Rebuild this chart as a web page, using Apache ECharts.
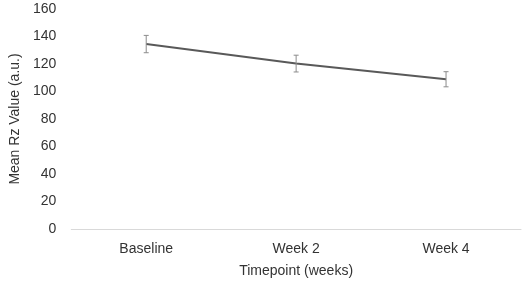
<!DOCTYPE html>
<html>
<head>
<meta charset="utf-8">
<script src="https://cdn.jsdelivr.net/npm/echarts@6/dist/echarts.min.js"></script>
<style>html,body{margin:0;padding:0;background:#fff}#c{width:524px;height:283px}</style>
</head>
<body>
<div id="c"></div>
<script>
const categories = ['Baseline', 'Week 2', 'Week 4'];
const meanValues = [134.5, 120.3, 108.9];
const errorValues = [6.3, 6.1, 5.5];
const yTicks = [0, 20, 40, 60, 80, 100, 120, 140, 160];

const chart = echarts.init(document.getElementById('c'), null, {renderer: 'canvas'});
const font = 'Liberation Sans, Arial, sans-serif';
const errData = categories.map((c, i) => [i, meanValues[i] - errorValues[i], meanValues[i] + errorValues[i]]);
chart.setOption({
  animation: false,
  backgroundColor: '#ffffff',
  grid: {left: 66, right: 3, top: 9, bottom: 54},
  xAxis: {
    type: 'category',
    data: categories,
    boundaryGap: true,
    axisLine: {lineStyle: {color: '#d9d9d9', width: 1}},
    axisTick: {show: false},
    axisLabel: {color: '#333333', fontSize: 14, fontFamily: font, margin: 13},
    name: 'Timepoint (weeks)',
    nameLocation: 'middle',
    nameGap: 35,
    nameTextStyle: {color: '#333333', fontSize: 14, fontFamily: font}
  },
  yAxis: {
    type: 'value',
    min: yTicks[0],
    max: yTicks[yTicks.length - 1],
    interval: yTicks[1] - yTicks[0],
    axisLine: {show: false},
    axisTick: {show: false},
    splitLine: {show: false},
    axisLabel: {color: '#333333', fontSize: 14, fontFamily: font, margin: 15},
    name: 'Mean Rz Value (a.u.)',
    nameLocation: 'middle',
    nameGap: 49,
    nameTextStyle: {color: '#333333', fontSize: 14, fontFamily: font}
  },
  series: [
    {
      type: 'line',
      data: meanValues,
      symbol: 'none',
      lineStyle: {color: '#595959', width: 2},
      z: 3
    },
    {
      type: 'custom',
      data: errData,
      z: 4,
      renderItem: function (params, api) {
        const x = api.value(0);
        const lo = api.coord([x, api.value(1)]);
        const hi = api.coord([x, api.value(2)]);
        const w = 2.5;
        const style = {stroke: '#8c8c8c', lineWidth: 1};
        return {
          type: 'group',
          children: [
            {type: 'line', shape: {x1: hi[0], y1: hi[1], x2: lo[0], y2: lo[1]}, style: style},
            {type: 'line', shape: {x1: hi[0] - w, y1: hi[1], x2: hi[0] + w, y2: hi[1]}, style: style},
            {type: 'line', shape: {x1: lo[0] - w, y1: lo[1], x2: lo[0] + w, y2: lo[1]}, style: style}
          ]
        };
      }
    }
  ]
});
</script>
</body>
</html>
